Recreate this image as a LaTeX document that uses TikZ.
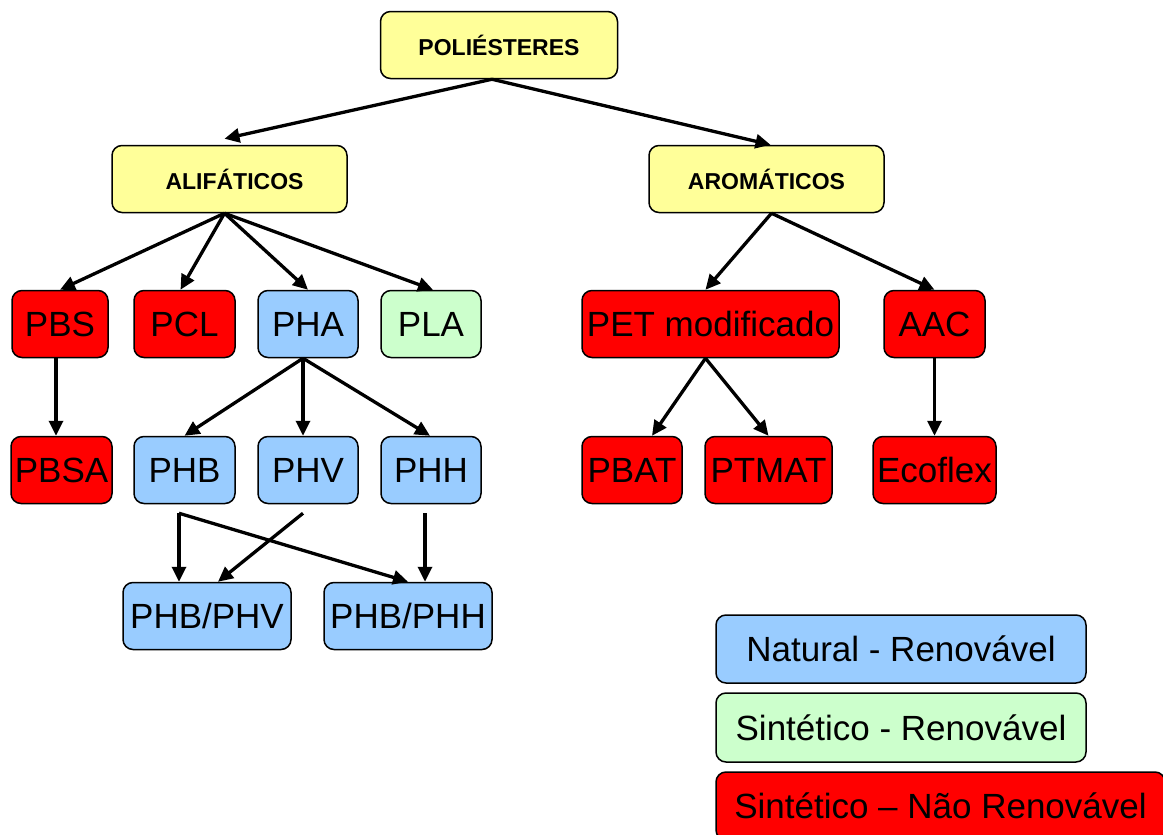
\documentclass[tikz,border=0pt]{standalone}
\usepackage{fontspec}
\setmainfont{Liberation Sans}
\usetikzlibrary{arrows.meta}
\definecolor{cyel}{HTML}{FFFF99}
\definecolor{cblue}{HTML}{99CCFF}
\definecolor{cgreen}{HTML}{CCFFCC}
\definecolor{cred}{HTML}{FF0000}
\begin{document}
\begin{tikzpicture}[x=1pt,y=-1pt,
  box/.style={draw=black, line width=1.5pt, rounded corners=10pt, inner sep=0pt,
    minimum height=67pt, font=\fontsize{35}{40}\selectfont},
  head/.style={box, fill=cyel, font=\fontsize{23}{28}\selectfont\bfseries},
  nat/.style={box, fill=cblue},
  syn/.style={box, fill=cgreen},
  nren/.style={box, fill=cred},
  arr/.style={line width=3.3pt, -{Triangle[length=15pt,width=14pt]}}]
\useasboundingbox (0,0) rectangle (1163,835);
\fill[white] (0,0) rectangle (1163,835);

% headers
\node[head, minimum width=237pt] (poli) at (499,45) {POLIÉSTERES};
\node[head, minimum width=235pt] (ali) at (229.5,179) {\hspace*{10pt}ALIFÁTICOS};
\node[head, minimum width=235pt] (aro) at (766.5,179) {AROMÁTICOS};

% level 1
\node[nren, minimum width=96pt] (pbs) at (60,324) {PBS};
\node[nren, minimum width=101pt] (pcl) at (184.5,324) {PCL};
\node[nat, minimum width=100pt] (pha) at (308,324) {PHA};
\node[syn, minimum width=100pt] (pla) at (431,324) {PLA};
\node[nren, minimum width=257pt] (pet) at (710.5,324) {PET modificado};
\node[nren, minimum width=101pt] (aac) at (934.5,324) {AAC};

% level 2
\node[nren, minimum width=101pt] (pbsa) at (61.5,470) {PBSA};
\node[nat, minimum width=101pt] (phb) at (184.5,470) {PHB};
\node[nat, minimum width=100pt] (phv) at (308,470) {PHV};
\node[nat, minimum width=100pt] (phh) at (431,470) {PHH};
\node[nren, minimum width=100pt] (pbat) at (632,470) {PBAT};
\node[nren, minimum width=127pt] (ptmat) at (768.5,470) {PTMAT};
\node[nren, minimum width=123pt] (eco) at (934.5,470) {Ecoflex};

% level 3
\node[nat, minimum width=168pt] (phbphv) at (207,616) {PHB/PHV};
\node[nat, minimum width=168pt] (phbphh) at (408,616) {PHB/PHH};

% legend
\node[nat, minimum width=370pt, minimum height=68pt] (lnat) at (901,649) {Natural - Renovável};
\node[syn, minimum width=370pt, minimum height=69pt] (lsyn) at (901,727.5) {Sintético - Renovável};
\node[nren, minimum width=449pt, minimum height=68pt] (lnren) at (940.5,806) {Sintético – Não Renovável};

% connectors
\draw[arr] ([xshift=-7pt]poli.south) -- ([xshift=-5pt,yshift=6pt]ali.north);
\draw[arr] ([xshift=-7pt]poli.south) -- ([xshift=4pt]aro.north);

\draw[arr] ([xshift=-5pt]ali.south) -- (pbs.north);
\draw[arr] ([xshift=-5pt]ali.south) -- ([xshift=-4pt]pcl.north);
\draw[arr] ([xshift=-5pt]ali.south) -- (pha.north);
\draw[arr] ([xshift=-5pt]ali.south) -- ([xshift=2pt]pla.north);

\draw[arr] ([xshift=5pt]aro.south) -- ([xshift=-5pt]pet.north);
\draw[arr] ([xshift=5pt]aro.south) -- (aac.north);

\draw[arr] ([xshift=-4pt]pbs.south) -- ([xshift=-5.5pt]pbsa.north);

\draw[arr] ([xshift=-5pt]pha.south) -- (phb.north);
\draw[arr] ([xshift=-5pt]pha.south) -- ([xshift=-5pt]phv.north);
\draw[arr] ([xshift=-5pt]pha.south) -- ([xshift=-1pt]phh.north);

\draw[arr] ([xshift=-5pt]pet.south) -- ([xshift=20pt]pbat.north);
\draw[arr] ([xshift=-5pt]pet.south) -- (ptmat.north);
\draw[arr] (aac.south) -- (eco.north);

\coordinate (phbout) at ([xshift=-5.5pt,yshift=-9pt]phb.south);
\coordinate (phvout) at ([xshift=-5pt,yshift=-9pt]phv.south);
\coordinate (phhout) at ([xshift=-6pt,yshift=-9pt]phh.south);
\draw[arr] (phbout) -- ([xshift=-28pt]phbphv.north);
\draw[arr] (phbout) -- (phbphh.north);
\draw[arr] (phvout) -- ([xshift=11pt]phbphv.north);
\draw[arr] (phhout) -- ([xshift=17pt]phbphh.north);
\end{tikzpicture}
\end{document}
